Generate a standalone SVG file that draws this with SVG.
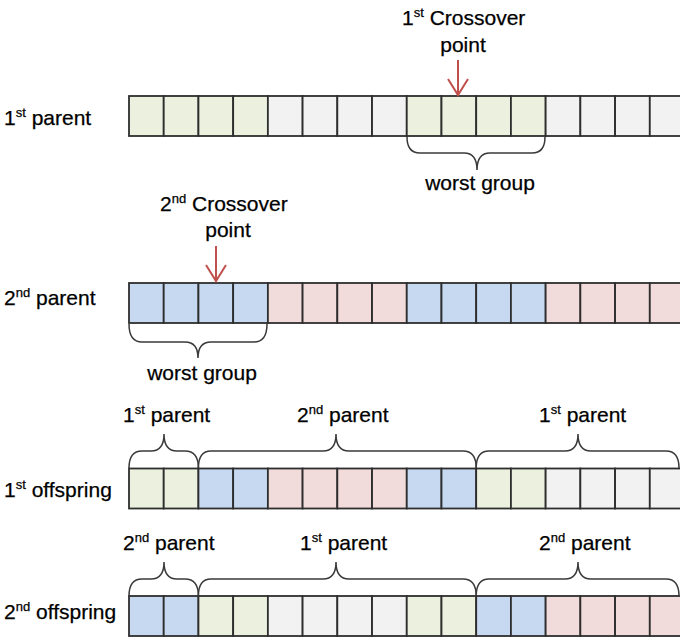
<svg xmlns="http://www.w3.org/2000/svg" width="680" height="638" viewBox="0 0 680 638">
  <style>
    text { font-family: "Liberation Sans", Arial, sans-serif; font-size: 21px; fill: #000; stroke: #000; stroke-width: 0.25; }
    .sup { font-size: 13px; }
    .cell { stroke: #2e2e2e; stroke-width: 1.8; }
    .g { fill: #ebf1de; }
    .w { fill: #f2f2f2; }
    .b { fill: #c6d9f0; }
    .p { fill: #f2dcdb; }
    .brace { fill: none; stroke: #3a3a3a; stroke-width: 1.5; }
    .cut { fill: none; stroke: #c0504d; stroke-width: 2; }
  </style>
  <defs>
    <marker id="chev" viewBox="0 0 22 22" markerWidth="22" markerHeight="22" refX="19" refY="11" orient="auto" markerUnits="userSpaceOnUse">
      <path d="M3,1 L19,11 L3,21" fill="none" stroke="#c0504d" stroke-width="2"/>
    </marker>
  </defs>

  <rect width="680" height="638" fill="#fff"/>

  <!-- chromosome: 1st parent -->
  <g id="parent1">
    <text x="4" y="125">1<tspan class="sup" dy="-8">st</tspan><tspan dy="8"> parent</tspan></text>
    <g transform="translate(0,96)">
      <rect class="cell g" x="129" width="34.72" height="40"/>
      <rect class="cell g" x="163.72" width="34.72" height="40"/>
      <rect class="cell g" x="198.44" width="34.72" height="40"/>
      <rect class="cell g" x="233.16" width="34.72" height="40"/>
      <rect class="cell w" x="267.88" width="34.72" height="40"/>
      <rect class="cell w" x="302.6" width="34.72" height="40"/>
      <rect class="cell w" x="337.32" width="34.72" height="40"/>
      <rect class="cell w" x="372.04" width="34.72" height="40"/>
      <rect class="cell g" x="406.76" width="34.72" height="40"/>
      <rect class="cell g" x="441.48" width="34.72" height="40"/>
      <rect class="cell g" x="476.2" width="34.72" height="40"/>
      <rect class="cell g" x="510.92" width="34.72" height="40"/>
      <rect class="cell w" x="545.64" width="34.72" height="40"/>
      <rect class="cell w" x="580.36" width="34.72" height="40"/>
      <rect class="cell w" x="615.08" width="34.72" height="40"/>
      <rect class="cell w" x="649.8" width="34.72" height="40"/>
    </g>
  </g>

  <!-- chromosome: 2nd parent -->
  <g id="parent2">
    <text x="4" y="305">2<tspan class="sup" dy="-8">nd</tspan><tspan dy="8"> parent</tspan></text>
    <g transform="translate(0,283)">
      <rect class="cell b" x="129" width="34.72" height="40"/>
      <rect class="cell b" x="163.72" width="34.72" height="40"/>
      <rect class="cell b" x="198.44" width="34.72" height="40"/>
      <rect class="cell b" x="233.16" width="34.72" height="40"/>
      <rect class="cell p" x="267.88" width="34.72" height="40"/>
      <rect class="cell p" x="302.6" width="34.72" height="40"/>
      <rect class="cell p" x="337.32" width="34.72" height="40"/>
      <rect class="cell p" x="372.04" width="34.72" height="40"/>
      <rect class="cell b" x="406.76" width="34.72" height="40"/>
      <rect class="cell b" x="441.48" width="34.72" height="40"/>
      <rect class="cell b" x="476.2" width="34.72" height="40"/>
      <rect class="cell b" x="510.92" width="34.72" height="40"/>
      <rect class="cell p" x="545.64" width="34.72" height="40"/>
      <rect class="cell p" x="580.36" width="34.72" height="40"/>
      <rect class="cell p" x="615.08" width="34.72" height="40"/>
      <rect class="cell p" x="649.8" width="34.72" height="40"/>
    </g>
  </g>

  <!-- chromosome: 1st offspring -->
  <g id="offspring1">
    <text x="4" y="497">1<tspan class="sup" dy="-8">st</tspan><tspan dy="8"> offspring</tspan></text>
    <g transform="translate(0,468.5)">
      <rect class="cell g" x="129" width="34.72" height="40"/>
      <rect class="cell g" x="163.72" width="34.72" height="40"/>
      <rect class="cell b" x="198.44" width="34.72" height="40"/>
      <rect class="cell b" x="233.16" width="34.72" height="40"/>
      <rect class="cell p" x="267.88" width="34.72" height="40"/>
      <rect class="cell p" x="302.6" width="34.72" height="40"/>
      <rect class="cell p" x="337.32" width="34.72" height="40"/>
      <rect class="cell p" x="372.04" width="34.72" height="40"/>
      <rect class="cell b" x="406.76" width="34.72" height="40"/>
      <rect class="cell b" x="441.48" width="34.72" height="40"/>
      <rect class="cell g" x="476.2" width="34.72" height="40"/>
      <rect class="cell g" x="510.92" width="34.72" height="40"/>
      <rect class="cell w" x="545.64" width="34.72" height="40"/>
      <rect class="cell w" x="580.36" width="34.72" height="40"/>
      <rect class="cell w" x="615.08" width="34.72" height="40"/>
      <rect class="cell w" x="649.8" width="34.72" height="40"/>
    </g>
  </g>

  <!-- chromosome: 2nd offspring -->
  <g id="offspring2">
    <text x="4" y="619">2<tspan class="sup" dy="-8">nd</tspan><tspan dy="8"> offspring</tspan></text>
    <g transform="translate(0,596)">
      <rect class="cell b" x="129" width="34.72" height="40"/>
      <rect class="cell b" x="163.72" width="34.72" height="40"/>
      <rect class="cell g" x="198.44" width="34.72" height="40"/>
      <rect class="cell g" x="233.16" width="34.72" height="40"/>
      <rect class="cell w" x="267.88" width="34.72" height="40"/>
      <rect class="cell w" x="302.6" width="34.72" height="40"/>
      <rect class="cell w" x="337.32" width="34.72" height="40"/>
      <rect class="cell w" x="372.04" width="34.72" height="40"/>
      <rect class="cell g" x="406.76" width="34.72" height="40"/>
      <rect class="cell g" x="441.48" width="34.72" height="40"/>
      <rect class="cell b" x="476.2" width="34.72" height="40"/>
      <rect class="cell b" x="510.92" width="34.72" height="40"/>
      <rect class="cell p" x="545.64" width="34.72" height="40"/>
      <rect class="cell p" x="580.36" width="34.72" height="40"/>
      <rect class="cell p" x="615.08" width="34.72" height="40"/>
      <rect class="cell p" x="649.8" width="34.72" height="40"/>
    </g>
  </g>

  <!-- crossover point markers -->
  <g id="crossover1">
    <text x="402" y="25">1<tspan class="sup" dy="-8">st</tspan><tspan dy="8"> Crossover</tspan></text>
    <text x="463" y="52" text-anchor="middle">point</text>
  </g>
  <g id="crossover2">
    <text x="160" y="211">2<tspan class="sup" dy="-8">nd</tspan><tspan dy="8"> Crossover</tspan></text>
    <text x="228" y="237" text-anchor="middle">point</text>
  </g>

  <!-- worst-group braces and segment-origin braces -->
  <g id="braces">
    <path class="brace" d="M407,137 Q407,153 420,153 H464 Q477,153 477,170 Q477,153 490,153 H532 Q545,153 545,137"/>
    <text x="480" y="190" text-anchor="middle">worst group</text>

    <path class="brace" d="M129,324 Q129,342 142,342 H185 Q198,342 198,358 Q198,342 211,342 H254 Q267,342 267,324"/>
    <text x="202" y="380" text-anchor="middle">worst group</text>

    <path class="brace" d="M129,468 Q129,451 142,451 H151 Q164,451 164,434 Q164,451 177,451 H185 Q198.4,451 198.4,468"/>
    <path class="brace" d="M198.4,468 Q198.4,451 211,451 H323 Q336,451 336,434 Q336,451 349,451 H463 Q476.2,451 476.2,468"/>
    <path class="brace" d="M476.2,468 Q476.2,451 489,451 H565 Q578,451 578,434 Q578,451 591,451 H666 Q679,451 679,468"/>
    <text x="123" y="422">1<tspan class="sup" dy="-8">st</tspan><tspan dy="8"> parent</tspan></text>
    <text x="297" y="422">2<tspan class="sup" dy="-8">nd</tspan><tspan dy="8"> parent</tspan></text>
    <text x="539" y="422">1<tspan class="sup" dy="-8">st</tspan><tspan dy="8"> parent</tspan></text>

    <path class="brace" d="M129,596 Q129,579 142,579 H151 Q164,579 164,562 Q164,579 177,579 H185 Q198.4,579 198.4,596"/>
    <path class="brace" d="M198.4,596 Q198.4,579 211,579 H323 Q336,579 336,562 Q336,579 349,579 H463 Q476.2,579 476.2,596"/>
    <path class="brace" d="M476.2,596 Q476.2,579 489,579 H565 Q578,579 578,562 Q578,579 591,579 H666 Q679,579 679,596"/>
    <text x="123" y="550">2<tspan class="sup" dy="-8">nd</tspan><tspan dy="8"> parent</tspan></text>
    <text x="300" y="550">1<tspan class="sup" dy="-8">st</tspan><tspan dy="8"> parent</tspan></text>
    <text x="539" y="550">2<tspan class="sup" dy="-8">nd</tspan><tspan dy="8"> parent</tspan></text>
  </g>

  <!-- connectors: crossover arrows -->
  <g id="connectors">
    <line class="cut" x1="458" y1="60" x2="458" y2="95" marker-end="url(#chev)"/>
    <line class="cut" x1="216" y1="246" x2="216" y2="281" marker-end="url(#chev)"/>
  </g>
</svg>
